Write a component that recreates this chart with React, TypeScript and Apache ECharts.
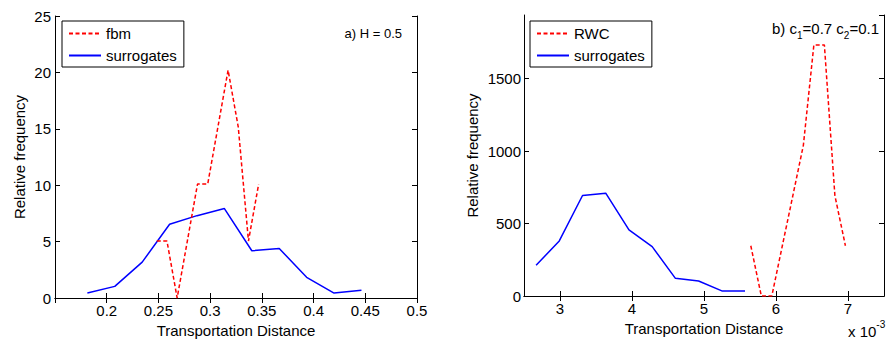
import React, { useEffect, useRef } from "react";
import * as echarts from "echarts";

// Panel a) fbm vs surrogates
const fbmX = [0.2484, 0.25825, 0.2681, 0.27795, 0.2878, 0.29765, 0.3075, 0.31735, 0.3272, 0.33705, 0.3469];
const fbmY = [5.05, 5.05, 0, 5.05, 10.1, 10.1, 15.15, 20.2, 15.15, 5.05, 10.1];
const surrAX = [0.1813, 0.2078, 0.2343, 0.2608, 0.2873, 0.3138, 0.3403, 0.3668, 0.3933, 0.4198, 0.4463];
const surrAY = [0.44, 1.03, 3.18, 6.54, 7.3, 7.93, 4.19, 4.39, 1.83, 0.44, 0.68];

// Panel b) RWC vs surrogates (x in units of 10^-3)
const rwcX = [5.65, 5.796, 5.942, 6.088, 6.234, 6.38, 6.526, 6.672, 6.818, 6.964];
const rwcY = [347, 0, 0, 347, 693, 1040, 1733, 1733, 693, 347];
const surrBX = [2.668, 2.99, 3.313, 3.635, 3.958, 4.28, 4.603, 4.925, 5.248, 5.57];
const surrBY = [212, 380, 694, 710, 456, 341, 122, 104, 35, 35];

const xTicksB = [3, 4, 5, 6, 7];

const FONT = "'Liberation Sans', Arial, Helvetica, sans-serif";

const zip = (xs: number[], ys: number[]) => xs.map((x, i) => [x, ys[i]]);

export default function App() {
  const ref = useRef<HTMLDivElement>(null);

  useEffect(() => {
    if (!ref.current) return;
    const chart = echarts.init(ref.current, undefined, { renderer: "svg" });

    const axisLine = { show: true, lineStyle: { color: "#000", width: 1 } };
    const tick = { show: true, inside: true, length: 5, lineStyle: { color: "#000", width: 1 } };
    const label = { color: "#000", fontSize: 15, fontFamily: FONT };
    const nameStyle = { color: "#000", fontSize: 15, fontFamily: FONT };
    const fmt = (v: number) => String(+v.toFixed(3));

    const red = { color: "#ff0000", width: 1.5, type: [4, 2.5] as number[] };
    const blue = { color: "#0000ff", width: 1.5, type: "solid" as const };

    const legendBase = {
      orient: "vertical", itemWidth: 32, itemHeight: 14, itemGap: 7, padding: [5, 7, 4, 6],
      borderColor: "#000", borderWidth: 1, backgroundColor: "#fff",
      textStyle: { color: "#000", fontSize: 15, fontFamily: FONT },
      itemStyle: { opacity: 0 },
      selectedMode: false,
    };

    chart.setOption({
      animation: false,
      backgroundColor: "#fff",
      textStyle: { fontFamily: FONT },
      grid: [
        { left: 55, right: 471, top: 16, bottom: 43, show: false, outerBoundsMode: "none" },
        { left: 524, right: 4, top: 15, bottom: 45, show: false, outerBoundsMode: "none" },
      ],
      xAxis: [
        {
          type: "value", gridIndex: 0, position: "bottom", min: 0.15, max: 0.5, interval: 0.05,
          axisLine, axisTick: tick, splitLine: { show: false },
          axisLabel: { ...label, margin: 5, showMinLabel: false, formatter: fmt },
          name: "Transportation Distance", nameLocation: "middle", nameGap: 21, nameTextStyle: nameStyle,
        },
        {
          type: "value", gridIndex: 0, position: "top", min: 0.15, max: 0.5, interval: 0.05,
          axisLine, axisTick: tick, splitLine: { show: false }, axisLabel: { show: false },
        },
        {
          type: "value", gridIndex: 1, position: "bottom", min: 2.5, max: 7.5,
          axisLine, axisTick: { ...tick, customValues: xTicksB }, splitLine: { show: false },
          axisLabel: { ...label, margin: 5, customValues: xTicksB, formatter: fmt },
          name: "Transportation Distance", nameLocation: "middle", nameGap: 21, nameTextStyle: nameStyle,
        },
        {
          type: "value", gridIndex: 1, position: "top", min: 2.5, max: 7.5,
          axisLine, axisTick: { ...tick, customValues: xTicksB }, splitLine: { show: false },
          axisLabel: { show: false, customValues: xTicksB },
        },
      ],
      yAxis: [
        {
          type: "value", gridIndex: 0, position: "left", min: 0, max: 25, interval: 5,
          axisLine, axisTick: tick, splitLine: { show: false },
          axisLabel: { ...label, margin: 4, formatter: fmt },
          name: "Relative frequency", nameLocation: "middle", nameRotate: 90, nameGap: 28,
          nameTextStyle: nameStyle,
        },
        {
          type: "value", gridIndex: 0, position: "right", min: 0, max: 25, interval: 5,
          axisLine, axisTick: tick, splitLine: { show: false }, axisLabel: { show: false },
        },
        {
          type: "value", gridIndex: 1, position: "left", min: 0, max: 1940, interval: 500,
          axisLine, axisTick: tick, splitLine: { show: false },
          axisLabel: { ...label, margin: 3, showMaxLabel: false, formatter: fmt },
          name: "Relative frequency", nameLocation: "middle", nameRotate: 90, nameGap: 44,
          nameTextStyle: nameStyle,
        },
        {
          type: "value", gridIndex: 1, position: "right", min: 0, max: 1940, interval: 500,
          axisLine, axisTick: tick, splitLine: { show: false }, axisLabel: { show: false },
        },
      ],
      legend: [
        { ...legendBase, data: ["fbm", "surrogates"], left: 62, top: 21 },
        { ...legendBase, data: ["RWC", "surrogates"], left: 530, top: 21 },
      ],
      series: [
        {
          name: "fbm", type: "line", xAxisIndex: 0, yAxisIndex: 0, data: zip(fbmX, fbmY),
          symbol: "none", lineStyle: red, itemStyle: { color: "#ff0000" }, z: 3,
        },
        {
          name: "surrogates", type: "line", xAxisIndex: 0, yAxisIndex: 0, data: zip(surrAX, surrAY),
          symbol: "none", lineStyle: blue, itemStyle: { color: "#0000ff" }, z: 2,
        },
        {
          name: "RWC", type: "line", xAxisIndex: 2, yAxisIndex: 2, data: zip(rwcX, rwcY),
          symbol: "none", lineStyle: red, itemStyle: { color: "#ff0000" }, z: 3,
        },
        {
          name: "surrogates", type: "line", xAxisIndex: 2, yAxisIndex: 2, data: zip(surrBX, surrBY),
          symbol: "none", lineStyle: blue, itemStyle: { color: "#0000ff" }, z: 2,
        },
      ],
      graphic: [
        {
          type: "text", x: 402, y: 33, z: 10,
          style: { text: "a) H = 0.5", fill: "#000", fontSize: 13, fontFamily: FONT, align: "right", verticalAlign: "middle" },
        },
        {
          type: "text", x: 879, y: 28, z: 10,
          style: {
            text: "{n|b) c}{s|1}{n|=0.7 c}{s|2}{n|=0.1}",
            align: "right", verticalAlign: "middle", fill: "#000", fontFamily: FONT,
            rich: {
              n: { fontSize: 15, lineHeight: 24, verticalAlign: "middle", fill: "#000", fontFamily: FONT },
              s: { fontSize: 10, lineHeight: 10, verticalAlign: "bottom", fill: "#000", fontFamily: FONT },
            },
          },
        },
        {
          type: "text", x: 848, y: 331, z: 10,
          style: {
            text: "{n|x 10}{s|-3}",
            align: "left", verticalAlign: "middle", fill: "#000", fontFamily: FONT,
            rich: {
              n: { fontSize: 15, lineHeight: 24, verticalAlign: "middle", fill: "#000", fontFamily: FONT },
              s: { fontSize: 10, lineHeight: 10, verticalAlign: "top", fill: "#000", fontFamily: FONT },
            },
          },
        },
      ],
    });

    return () => chart.dispose();
  }, []);

  return (
    <div
      ref={ref}
      style={{ position: "absolute", left: 0, top: 0, width: 888, height: 341 }}
    />
  );
}
